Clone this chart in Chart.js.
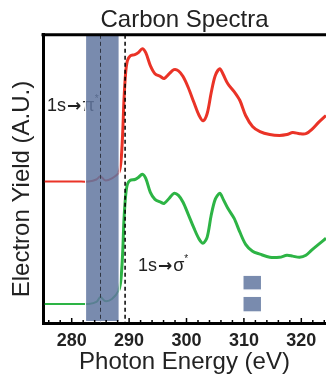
<html lang="en">
<head>
<meta charset="UTF-8">
<title>Carbon Spectra</title>
<script src="https://cdn.jsdelivr.net/npm/chart.js"></script>
<style>
  body { margin: 0; background: #fff; }
  #wrap { width: 326px; height: 380px; }
</style>
</head>
<body>
<div id="wrap"><canvas id="spectra" width="326" height="380"></canvas></div>
<script>

// photon energy (eV) of the sampled points
const energy = [275.3, 278, 281, 283, 284.3, 285, 285.8, 287, 288.2, 288.6, 288.9, 289.1, 289.4, 289.7,
  290.2, 291.0, 291.6, 292.3, 292.9, 293.7, 294.5, 295.5, 296.1, 297.0, 297.8, 298.6, 299.4, 300.3,
  301.3, 302.2, 302.9, 303.6, 304.3, 305.0, 305.8, 306.4, 307.2, 308.3, 309.3, 310.3, 311.5, 312.8,
  314.5, 316.2, 317.5, 318.5, 319.7, 320.8, 321.8, 323.0, 324.3];

// electron yield, arbitrary units (curves are offset)
const redYield = [49.1, 49.1, 49.1, 49.1, 49.8, 50.9, 49.5, 50.2, 52.2, 56.4, 66.8, 77.2, 86.9, 91.0,
  92.7, 93.1, 93.8, 95.2, 93.8, 89.3, 86.5, 85.5, 84.8, 86.5, 87.9, 87.5, 85.5, 81.7,
  76.5, 72.0, 70.2, 72.7, 79.9, 85.8, 88.2, 86.2, 83.0, 80.3, 77.2, 72.0, 68.2, 66.4,
  65.4, 65.1, 65.4, 66.1, 65.7, 65.7, 67.1, 69.6, 72.0];

const greenYield = [6.6, 6.6, 6.6, 6.6, 7.3, 9.0, 7.6, 8.3, 11.4, 15.6, 25.3, 35.6, 44.3, 48.1,
  49.5, 49.8, 50.5, 51.6, 50.2, 45.3, 42.9, 41.9, 41.5, 43.3, 45.0, 44.3, 41.9, 37.7,
  32.9, 29.1, 27.7, 29.8, 37.4, 42.9, 45.0, 42.9, 39.8, 36.3, 31.5, 27.3, 24.9, 23.9,
  22.8, 22.8, 23.5, 23.2, 22.8, 23.5, 25.3, 27.3, 29.4];

const xTickLabels = [280, 290, 300, 310, 320];
const piBand = [282.5, 288.2];   // shaded 1s->pi* region
const piLine = 285;              // dashed line inside band
const edgeLine = 289.3;          // absorption edge

const bandColor = 'rgba(98,119,160,0.85)';
const sans = '"Liberation Sans", Arial, sans-serif';

function toPoints(ys) {
  return energy.map((e, i) => ({ x: e, y: ys[i] }));
}

// "1s -> x*" label drawn in pieces so the arrow can be a chunkier glyph
function transitionLabel(ctx, x, y, sym) {
  ctx.font = '18px ' + sans;
  ctx.fillText('1s', x, y);
  x += ctx.measureText('1s').width + 1;
  ctx.font = 'bold 17px "DejaVu Sans", sans-serif';
  ctx.fillText('\u2192', x, y + 1);
  x += ctx.measureText('\u2192').width + 1;
  ctx.font = '18px ' + sans;
  ctx.fillText(sym, x, y);
  x += ctx.measureText(sym).width;
  ctx.font = '10px ' + sans;
  ctx.fillText('*', x, y - 7);
}

// extra drawing: band, dashed lines, labels, axis ticks, boxes
const decor = {
  id: 'decor',
  afterDatasetsDraw(chart) {
    const ctx = chart.ctx;
    const xs = chart.scales.x, ys = chart.scales.y;
    const a = chart.chartArea;
    ctx.save();

    // labels (pi label sits under the band)
    ctx.fillStyle = '#222';
    ctx.textBaseline = 'middle';
    transitionLabel(ctx, 47, 106, '\u03c0');
    transitionLabel(ctx, 138, 266, '\u03c3');

    // shaded band
    const b0 = xs.getPixelForValue(piBand[0]), b1 = xs.getPixelForValue(piBand[1]);
    ctx.fillStyle = bandColor;
    ctx.fillRect(b0, a.top, b1 - b0, a.bottom - a.top - 2);
    ctx.strokeStyle = '#fff';
    ctx.lineWidth = 1;
    ctx.strokeRect(b0 - 0.5, a.top - 0.5, b1 - b0 + 1, a.bottom - a.top - 1);

    // dashed lines
    ctx.setLineDash([4, 3]);
    ctx.strokeStyle = '#2f3542';
    ctx.lineWidth = 1;
    let px = Math.round(xs.getPixelForValue(piLine)) + 0.5;
    ctx.beginPath(); ctx.moveTo(px, a.top); ctx.lineTo(px, a.bottom); ctx.stroke();
    ctx.strokeStyle = '#000';
    ctx.lineWidth = 1.5;
    px = xs.getPixelForValue(edgeLine);
    ctx.beginPath(); ctx.moveTo(px, a.top); ctx.lineTo(px, a.bottom); ctx.stroke();
    ctx.setLineDash([]);

    // two small boxes
    const q0 = xs.getPixelForValue(309.8), q1 = xs.getPixelForValue(313.1);
    [[16.6, 11.4], [9.3, 3.8]].forEach(([t, bt]) => {
      const y0 = ys.getPixelForValue(t), y1 = ys.getPixelForValue(bt);
      ctx.fillStyle = bandColor;
      ctx.fillRect(q0, y0, q1 - q0, y1 - y0);
      ctx.strokeStyle = '#fff';
      ctx.strokeRect(q0, y0, q1 - q0, y1 - y0);
    });

    // top frame line
    ctx.strokeStyle = '#000';
    ctx.lineWidth = 3;
    ctx.beginPath(); ctx.moveTo(a.left - 1.5, a.top); ctx.lineTo(a.right, a.top); ctx.stroke();

    // inward ticks on the bottom axis
    ctx.lineWidth = 1.5;
    for (let v = 276; v <= 324; v += 2) {
      const tx = xs.getPixelForValue(v);
      const len = v % 10 === 0 ? 5 : 3;
      ctx.beginPath(); ctx.moveTo(tx, a.bottom); ctx.lineTo(tx, a.bottom - len); ctx.stroke();
    }

    // y title
    ctx.fillStyle = '#222';
    ctx.font = '24px ' + sans;
    ctx.textAlign = 'center';
    ctx.translate(22, 189);
    ctx.rotate(-Math.PI / 2);
    ctx.fillText('Electron Yield (A.U.)', 0, 0);
    ctx.restore();
  }
};

const ctx = document.getElementById('spectra').getContext('2d');
new Chart(ctx, {
  type: 'line',
  data: {
    datasets: [
      {
        data: toPoints(redYield),
        borderColor: '#ea3327',
        borderWidth: 3,
        pointRadius: 0,
        tension: 0.3,
        segment: { borderWidth: s => s.p1.parsed.x < 288.5 ? 2 : 3 }
      },
      {
        data: toPoints(greenYield),
        borderColor: '#2db445',
        borderWidth: 3,
        pointRadius: 0,
        tension: 0.3,
        segment: { borderWidth: s => s.p1.parsed.x < 288.5 ? 2 : 3 }
      }
    ]
  },
  options: {
    responsive: false,
    animation: false,
    plugins: {
      legend: { display: false },
      tooltip: { enabled: false },
      title: {
        display: true,
        fullSize: false,
        text: 'Carbon Spectra',
        color: '#222',
        font: { family: sans, size: 24, weight: 'normal' },
        padding: { top: 6, bottom: 0 }
      }
    },
    scales: {
      x: {
        type: 'linear',
        min: 275,
        max: 324.3,
        grid: { display: false, drawTicks: false },
        border: { display: true, color: '#000', width: 3 },
        afterBuildTicks: s => { s.ticks = xTickLabels.map(v => ({ value: v })); },
        ticks: {
          autoSkip: false,
          padding: 7,
          color: '#222',
          font: { family: sans, size: 18, weight: 'bold' }
        },
        title: {
          display: true,
          text: 'Photon Energy (eV)',
          color: '#222',
          font: { family: sans, size: 24 },
          padding: { top: 2, bottom: 3 }
        },
        afterFit: s => { s.height = 57; }
      },
      y: {
        min: 0,
        max: 100,
        grid: { display: false, drawTicks: false },
        border: { display: true, color: '#000', width: 3 },
        ticks: { display: false },
        afterFit: s => { s.width = 43; }
      }
    }
  },
  plugins: [decor]
});
</script>
</body>
</html>
